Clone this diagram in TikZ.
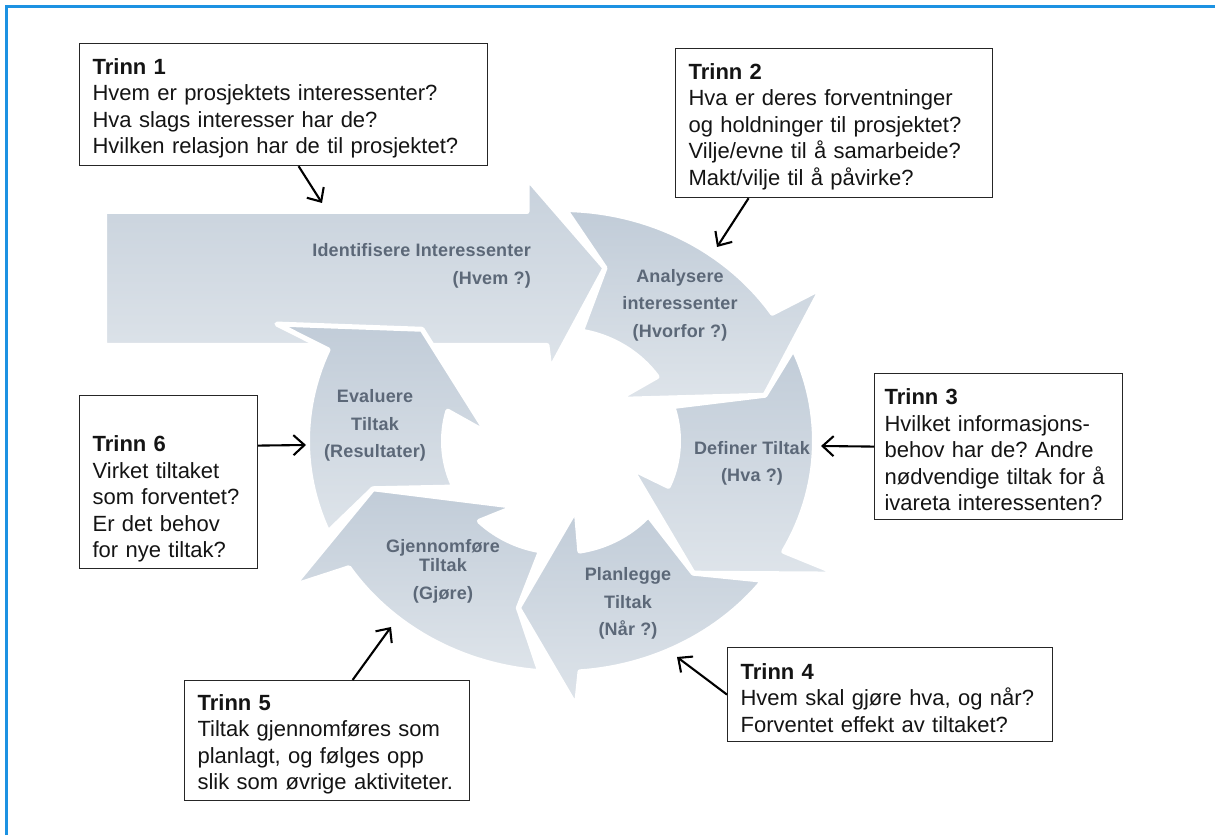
\documentclass[tikz,border=0pt]{standalone}
\usepackage{fontspec}
\setmainfont{Liberation Sans}
\newfontfamily\labelfont[LetterSpace=1]{Liberation Sans}
\usetikzlibrary{arrows.meta}
\definecolor{framblue}{RGB}{28,146,226}
\definecolor{ringdark}{RGB}{193,204,216}
\definecolor{ringlight}{RGB}{222,228,234}
\definecolor{labelgrey}{RGB}{92,104,120}
\frenchspacing
% taller first line, so the text block sits a little lower in its box
\newcommand\firstline{\rule{0pt}{23pt}}
\begin{document}
\begin{tikzpicture}[x=1pt,y=1pt,
  declare function={ringx(\t,\s)=561+(117.5+136*\s)*cos(\t);
                    ringy(\t,\s)=394+(111.5+120*\s)*sin(\t);},
  piece/.style={draw=white, line width=5pt, line join=round,
                top color=ringdark, bottom color=ringlight},
  trinn/.style={draw=black!85, line width=1.2pt, anchor=north west,
                inner xsep=13pt, inner ysep=0pt, align=left,
                font=\fontsize{22}{26.5}\selectfont, text=black!92},
  conn/.style={line width=2.1pt, -{Straight Barb[length=11pt,width=20pt]}},
  lab/.style={text=labelgrey, inner sep=0pt, align=center,
              font=\labelfont\bfseries\fontsize{18}{27.5}\selectfont}
]
\useasboundingbox (0,0) rectangle (1215,835);

% outer frame (top and left edges)
\draw[framblue, line width=2.5pt] (6.5,0) -- (6.5,828.5) -- (1215,828.5);

% ---- corner points of the cycle arrows (angle, radial position) ----
\coordinate (idtip) at (605,567);
\coordinate (an-to)  at ({ringx(89,1)},{ringy(89,1)});
\coordinate (an-ob)  at ({ringx(32.9,1.42)},{ringy(32.9,1.42)});
\coordinate (an-tip) at ({ringx(13.7,0.68)},{ringy(13.7,0.68)});
\coordinate (an-ib)  at ({ringx(36.7,-0.35)},{ringy(36.7,-0.35)});
\coordinate (de-to)  at ({ringx(23.5,1)},{ringy(23.5,1)});
\coordinate (de-ob)  at ({ringx(-27.8,1.45)},{ringy(-27.8,1.45)});
\coordinate (de-tip) at ({ringx(-47.3,0.57)},{ringy(-47.3,0.57)});
\coordinate (de-ib)  at ({ringx(-21.5,-0.31)},{ringy(-21.5,-0.31)});
\coordinate (pl-to)  at ({ringx(-37,1)},{ringy(-37,1)});
\coordinate (pl-ob)  at ({ringx(-87,1.29)},{ringy(-87,1.29)});
\coordinate (pl-tip) at ({ringx(-103.3,0.5)},{ringy(-103.3,0.5)});
\coordinate (pl-ib)  at ({ringx(-77.5,-0.35)},{ringy(-77.5,-0.35)});
\coordinate (gj-to)  at ({ringx(-94.8,1)},{ringy(-94.8,1)});
\coordinate (gj-ob)  at ({ringx(-149.2,1.43)},{ringy(-149.2,1.43)});
\coordinate (gj-tip) at ({ringx(-164.6,0.57)},{ringy(-164.6,0.57)});
\coordinate (gj-ib)  at ({ringx(-124,-0.27)},{ringy(-124,-0.27)});
\coordinate (ev-to)  at ({ringx(-156.8,1)},{ringy(-156.8,1)});
\coordinate (ev-ob)  at ({ringx(-204.4,1.43)},{ringy(-204.4,1.43)});
\coordinate (ev-tip) at ({ringx(-221,0.49)},{ringy(-221,0.49)});
\coordinate (ev-ib)  at ({ringx(-186,-0.32)},{ringy(-186,-0.32)});

% straight entry arrow
\path[piece, top color=ringdark!90!white, bottom color=ringlight]
  (104.5,623.5) -- (527,623.5) -- (527,657) -- (idtip) -- (550,465)
  -- (547,489.5) -- (104.5,489.5) -- cycle;

% Analysere
\path[piece] (an-to)
  -- plot[domain=89:33.5, samples=30, variable=\t] ({ringx(\t,1)},{ringy(\t,1)})
  -- (an-ob) -- (an-tip) -- (an-ib)
  -- plot[domain=35.2:80, samples=30, variable=\t] ({ringx(\t,0)},{ringy(\t,0)})
  -- (idtip) -- cycle;

% Definer
\path[piece] (de-to)
  -- plot[domain=23.5:-28.5, samples=30, variable=\t] ({ringx(\t,1)},{ringy(\t,1)})
  -- (de-ob) -- (de-tip) -- (de-ib)
  -- plot[domain=-24:18, samples=30, variable=\t] ({ringx(\t,0)},{ringy(\t,0)})
  -- (an-tip) -- cycle;

% Planlegge
\path[piece] (pl-to)
  -- plot[domain=-37:-85.7, samples=30, variable=\t] ({ringx(\t,1)},{ringy(\t,1)})
  -- (pl-ob) -- (pl-tip) -- (pl-ib)
  -- plot[domain=-80.8:-42, samples=30, variable=\t] ({ringx(\t,0)},{ringy(\t,0)})
  -- (de-tip) -- cycle;

% Gjennomfore
\path[piece] (gj-to)
  -- plot[domain=-94.8:-146.8, samples=30, variable=\t] ({ringx(\t,1)},{ringy(\t,1)})
  -- (gj-ob) -- (gj-tip) -- (gj-ib)
  -- plot[domain=-134:-100, samples=30, variable=\t] ({ringx(\t,0)},{ringy(\t,0)})
  -- (pl-tip) -- cycle;

% Evaluere
\path[piece] (ev-to)
  -- plot[domain=-156.8:-203.2, samples=30, variable=\t] ({ringx(\t,1)},{ringy(\t,1)})
  -- (ev-ob) -- (ev-tip) -- (ev-ib)
  -- plot[domain=-195.5:-155.6, samples=30, variable=\t] ({ringx(\t,0)},{ringy(\t,0)})
  -- (gj-tip) -- cycle;

% labels on the cycle
\node[lab, anchor=east, align=right] (lid) at (531,569) {Identifisere Interessenter\\(Hvem ?)};
\node[lab] (lan) at (680,530) {Analysere\\interessenter\\(Hvorfor ?)};
\node[lab] (lde) at (752,371.5) {Definer Tiltak\\(Hva ?)};
\node[lab] (lpl) at (628,231.5) {Planlegge\\Tiltak\\(Når ?)};
\node[lab] (lgj) at (443,264) {Gjennomføre\\[-8pt]Tiltak\\(Gjøre)};
\node[lab] (lev) at (375,409.5) {Evaluere\\Tiltak\\(Resultater)};

% step boxes
\node[trinn, text width=382pt, minimum height=122pt] (t1) at (79,792)
  {\firstline\textbf{Trinn 1}\\Hvem er prosjektets interessenter?\\Hva slags interesser har de?\\Hvilken relasjon har de til prosjektet?};
\node[trinn, text width=291pt, minimum height=149pt] (t2) at (675,787)
  {\firstline\textbf{Trinn 2}\\Hva er deres forventninger\\og holdninger til prosjektet?\\Vilje/evne til å samarbeide?\\Makt/vilje til å påvirke?};
\node[trinn, inner xsep=10pt, text width=228pt, minimum height=146pt] (t3) at (874,462)
  {\firstline\textbf{Trinn 3}\\Hvilket informasjons-\\behov har de? Andre\\nødvendige tiltak for å\\ivareta interessenten?};
\node[trinn, text width=299pt, minimum height=94pt] (t4) at (727,188)
  {\firstline\textbf{Trinn 4}\\Hvem skal gjøre hva, og når?\\Forventet effekt av tiltaket?};
\node[trinn, text width=259pt, minimum height=120pt] (t5) at (184,155)
  {\firstline\textbf{Trinn 5}\\Tiltak gjennomføres som\\planlagt, og følges opp\\slik som øvrige aktiviteter.};
\node[trinn, text width=152pt, minimum height=173pt] (t6) at (79,440)
  {\firstline\\\textbf{Trinn 6}\\Virket tiltaket\\som forventet?\\Er det behov\\for nye tiltak?};

% pointers from the boxes to the cycle
\coordinate (h1) at (322,632);
\coordinate (h2) at (717,588);
\coordinate (h3) at (821,389);
\coordinate (h4) at (677,178);
\coordinate (h5) at (391,208);
\coordinate (h6) at (306,390);
\draw[conn] ([xshift=15pt]t1.south) -- (h1);
\draw[conn] ([xshift=-85.5pt]t2.south) -- (h2);
\draw[conn] (t3.west) -- (h3);
\draw[conn] (t4.west) -- (h4);
\draw[conn] ([xshift=25.5pt]t5.north) -- (h5);
\draw[conn] ([yshift=36.5pt]t6.east) -- (h6);
\end{tikzpicture}
\end{document}
